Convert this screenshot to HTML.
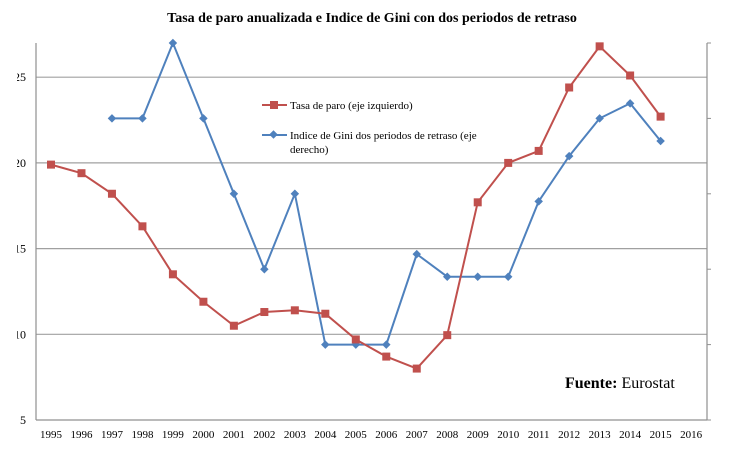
<!DOCTYPE html>
<html><head><meta charset="utf-8"><style>
body{margin:0;background:#fff}
svg{display:block;font-family:"Liberation Serif",serif}
</style></head><body>
<svg id="c" width="732" height="462">
<text x="372" y="22" text-anchor="middle" font-size="14" font-weight="bold">Tasa de paro anualizada e Indice de Gini con dos periodos de retraso</text>
<g id="grid"></g><g id="axes"></g><g id="series"></g>
<g>
<line x1="262" y1="105" x2="287" y2="105" stroke="#c0504d" stroke-width="2"/>
<rect x="270" y="101" width="8" height="8" fill="#c0504d"/>
<text x="290" y="109" font-size="11">Tasa de paro (eje izquierdo)</text>
<line x1="262" y1="135" x2="287" y2="135" stroke="#4f81bd" stroke-width="2"/>
<rect x="270.5" y="131.5" width="6" height="6" fill="#4f81bd" transform="rotate(45 273.5 134.5)"/>
<text x="290" y="139" font-size="11">Indice de Gini dos periodos de retraso (eje</text>
<text x="290" y="153" font-size="11">derecho)</text>
</g>
<text x="565" y="388" font-size="16"><tspan font-weight="bold">Fuente:</tspan> Eurostat</text>
</svg>
<script>
const years=[1995,1996,1997,1998,1999,2000,2001,2002,2003,2004,2005,2006,2007,2008,2009,2010,2011,2012,2013,2014,2015,2016];
const paro=[19.9,19.4,18.2,16.3,13.5,11.9,10.5,11.3,11.4,11.2,9.7,8.7,8.0,9.95,17.7,20.0,20.7,24.4,26.8,25.1,22.7,null];
const gini=[null,null,34.0,34.0,35.0,34.0,33.0,32.0,33.0,31.0,31.0,31.0,32.2,31.9,31.9,31.9,32.9,33.5,34.0,34.2,33.7,null];
const leftTicks=[5,10,15,20,25];
const rightTicks=[30,31,32,33,34,35];
const NS="http://www.w3.org/2000/svg";
const X0=36,X1=707,yB=420;
const xs=i=>51+i*30.48;
const yl=v=>420-(v-5)*17.14;
const yr=v=>420-(v-30)*75.4;
function mk(t,a,p){const e=document.createElementNS(NS,t);for(const k in a)e.setAttribute(k,a[k]);(p||document.getElementById('c')).appendChild(e);return e;}
const grid=document.getElementById('grid'),axes=document.getElementById('axes'),ser=document.getElementById('series');
leftTicks.forEach(v=>{
 if(v>5){const g=mk('line',{x1:X0,x2:X1,y1:yl(v),y2:yl(v),stroke:'#a0a0a0','stroke-width':1.2},grid);
 
 }
 const t=mk('text',{x:26,y:yl(v)+4,'text-anchor':'end','font-size':12},axes);
 t.textContent=String(v);
 
 
});
mk('rect',{x:0,y:40,width:17,height:390,fill:'#fff'},axes);
const la=mk('line',{x1:X0,x2:X0,y1:43,y2:yB,stroke:'#909090','stroke-width':1.2},axes);


const ra=mk('line',{x1:X1,x2:X1,y1:43,y2:yB,stroke:'#909090','stroke-width':1.2},axes);


rightTicks.forEach(v=>{const t=mk('line',{x1:X1,x2:X1+4,y1:yr(v),y2:yr(v),stroke:'#909090'},axes);
 
 });
const xa=mk('line',{x1:X0,x2:X1,y1:yB,y2:yB,stroke:'#909090','stroke-width':1.2},axes);


years.forEach((y,i)=>{const t=mk('text',{x:xs(i),y:438,'text-anchor':'middle','font-size':11},axes);
 t.textContent=y;
 
 });
function line(arr,yf,col,name){
 const pts=[];arr.forEach((v,i)=>{if(v!=null)pts.push(xs(i)+','+yf(v));});
 const p=mk('polyline',{points:pts.join(' '),fill:'none',stroke:col,'stroke-width':2},ser);
 
 
}
line(gini,yr,'#4f81bd','gini');
line(paro,yl,'#c0504d','paro');
gini.forEach((v,i)=>{if(v==null)return;const x=xs(i),y=yr(v);
 const m=mk('rect',{x:x-3,y:y-3,width:6,height:6,fill:'#4f81bd',transform:`rotate(45 ${x} ${y})`},ser);
 
 });
paro.forEach((v,i)=>{if(v==null)return;const x=xs(i),y=yl(v);
 const m=mk('rect',{x:x-4,y:y-4,width:8,height:8,fill:'#c0504d'},ser);
 
 });
</script>
</body></html>
